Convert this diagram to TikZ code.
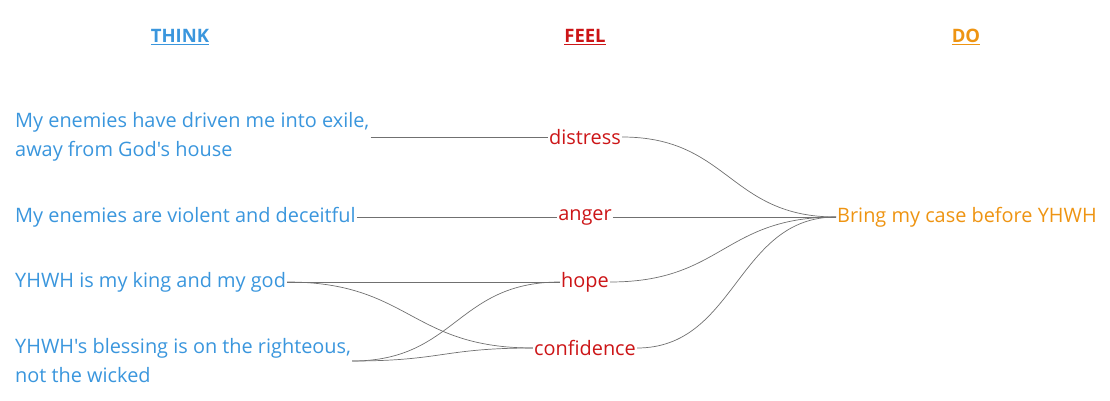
\documentclass[tikz,border=0pt]{standalone}
\usepackage{fontspec}
\setmainfont{Open Sans}[Ligatures=TeXOff]
\usetikzlibrary{calc}
\definecolor{thinkc}{HTML}{3A96DD}
\definecolor{feelc}{HTML}{CC1517}
\definecolor{doc}{HTML}{EE9412}
\definecolor{linkc}{HTML}{707070}
\begin{document}
\begin{tikzpicture}[x=1pt,y=-1pt,
  txt/.style={inner sep=1pt, font=\fontsize{19.9}{29}\selectfont},
  think/.style={txt, text=thinkc, anchor=west, align=left},
  feel/.style={txt, text=feelc},
  dobox/.style={txt, text=doc, anchor=west},
  head/.style={inner sep=0pt, font=\fontsize{18.5}{22}\selectfont\bfseries},
  link/.style={draw=linkc, line width=0.7pt},
  hlink/.style={link, to path={let \p1=(\tikztostart), \p2=(\tikztotarget) in .. controls ({(\x1+\x2)/2},\y1) and ({(\x1+\x2)/2},\y2) .. (\tikztotarget)}}
]
\useasboundingbox (0,0) rectangle (1110,401);
\node[head, text=thinkc] (hthink) at (180,37) {\underline{THINK}};
\node[head, text=feelc] (hfeel) at (585,37) {\underline{FEEL}};
\node[head, text=doc] (hdo) at (966,37) {\underline{DO}};

\node[think] (t1) at (14,137) {My enemies have driven me into exile,\\away from God's house};
\node[think] (t2) at (14,217) {My enemies are violent and deceitful};
\node[think] (t3) at (14,282) {YHWH is my king and my god};
\node[think] (t4) at (14,361) {YHWH's blessing is on the righteous,\\not the wicked};

\node[feel] (f1) at (585,137) {distress};
\node[feel] (f2) at (585,217) {anger};
\node[feel] (f3) at (585,282) {hope};
\node[feel] (f4) at (585,348) {confidence};

\node[dobox] (d) at (836,217) {Bring my case before YHWH};

\draw[link] (t1.east) -- (f1.west);
\draw[link] (t2.east) -- (f2.west);
\draw[link] (t3.east) -- (f3.west);
\draw[hlink] (t3.east) to (f4.west);
\draw[hlink] (t4.east) to (f3.west);
\draw[hlink] (t4.east) to (f4.west);
\draw[hlink] (f1.east) to (d.west);
\draw[link] (f2.east) -- (d.west);
\draw[hlink] (f3.east) to (d.west);
\draw[hlink] (f4.east) to (d.west);
\end{tikzpicture}
\end{document}
